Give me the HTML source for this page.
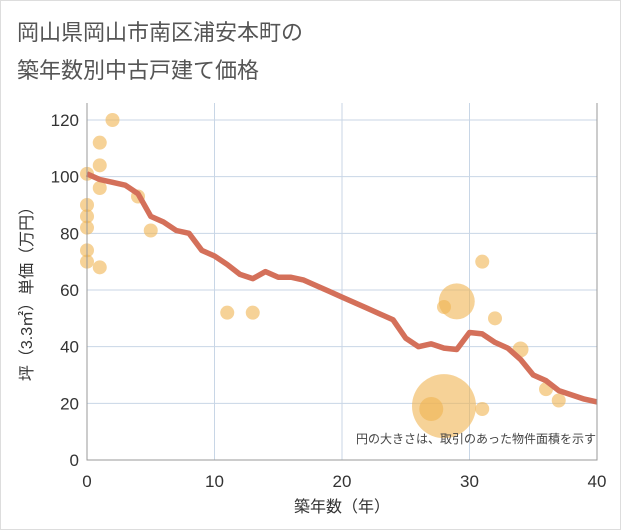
<!DOCTYPE html>
<html><head><meta charset="utf-8"><style>
body{margin:0;background:#fff;}
svg{display:block;font-family:"Liberation Sans","Noto Sans CJK JP",sans-serif;}
</style></head><body>
<svg width="621" height="530">
<rect x="0.5" y="0.5" width="620" height="529" fill="#fff" stroke="#ddd"/>
<text x="17" y="40" font-size="22" fill="#555">岡山県岡山市南区浦安本町の</text>
<text x="17" y="78" font-size="22" fill="#555">築年数別中古戸建て価格</text>
<g id="grid"></g>
<g id="pts"></g>
<path id="line" fill="none" stroke="#d4705a" stroke-width="5.5" stroke-linejoin="round"/>
<g id="axes"></g>
<text x="596" y="443" font-size="12" fill="#444" text-anchor="end">円の大きさは、取引のあった物件面積を示す</text>
<text x="342" y="512" font-size="16" fill="#333" text-anchor="middle">築年数（年）</text>
<text transform="translate(32,290) rotate(-90)" font-size="16" fill="#333" text-anchor="middle">坪（3.3㎡）単価（万円）</text>
</svg>
<script>
const xTicks=[0,10,20,30,40];
const yTicks=[0,20,40,60,80,100,120];
const lineYears=[0,1,2,3,4,5,6,7,8,9,10,11,12,13,14,15,16,17,18,19,20,21,22,23,24,25,26,27,28,29,30,31,32,33,34,35,36,37,38,39,40];
const linePrices=[101,99,98,97,94,86,84,81,80,74,72,69,65.5,64,66.5,64.5,64.5,63.5,61.5,59.5,57.5,55.5,53.5,51.5,49.5,43,40,41,39.5,39,45,44.5,41.5,39.5,35.5,30,28,24.5,23,21.5,20.5];
const ptYears=[0,0,0,0,0,0,1,1,1,1,2,4,5,11,13,28,29,31,32,34,36,37,28,27,31];
const ptPrices=[101,90,86,82,74,70,112,104,96,68,120,93,81,52,52,54,56,70,50,39,25,21,19,18,18];
const ptSizes=[7,7,7,7,7,7,7,7,7,7,7,7,7,7,7,7,18,7,7,8,7,7,32,12,7];
const X0=87,X1=597,Y0=460,Y1=120;
const sx=v=>X0+(X1-X0)*v/40, sy=v=>Y0-(Y0-Y1)*v/120;
const NS="http://www.w3.org/2000/svg";
const mk=(t,a,p)=>{const e=document.createElementNS(NS,t);for(const k in a)e.setAttribute(k,a[k]);p.appendChild(e);return e;};
const grid=document.getElementById('grid'),axes=document.getElementById('axes'),pts=document.getElementById('pts');
xTicks.forEach(t=>{
 const l=mk('line',{x1:sx(t),x2:sx(t),y1:103,y2:Y0,stroke:'#c8d6e6','stroke-width':1},grid);
 
 
 const tx=mk('text',{x:sx(t),y:487,'font-size':17,fill:'#333','text-anchor':'middle'},axes);
 tx.textContent=t;
 
 
});
yTicks.forEach(t=>{
 const l=mk('line',{x1:X0,x2:X1,y1:sy(t),y2:sy(t),stroke:'#c8d6e6','stroke-width':1},grid);
 
 
 const tx=mk('text',{x:79,y:sy(t)+6,'font-size':17,fill:'#333','text-anchor':'end'},axes);
 tx.textContent=t;
 
 
});
const ax=mk('path',{d:`M${X0},103V${Y0}H${X1}V103`,fill:'none',stroke:'#999','stroke-width':1},axes);


ptYears.forEach((yr,i)=>{
 const c=mk('circle',{cx:sx(yr),cy:sy(ptPrices[i]),r:ptSizes[i],fill:'#f0b452','fill-opacity':0.6},pts);
 
 
});
document.getElementById('line').setAttribute('d',lineYears.map((y,i)=>(i?'L':'M')+sx(y)+','+sy(linePrices[i])).join(''));
</script>
</body></html>
